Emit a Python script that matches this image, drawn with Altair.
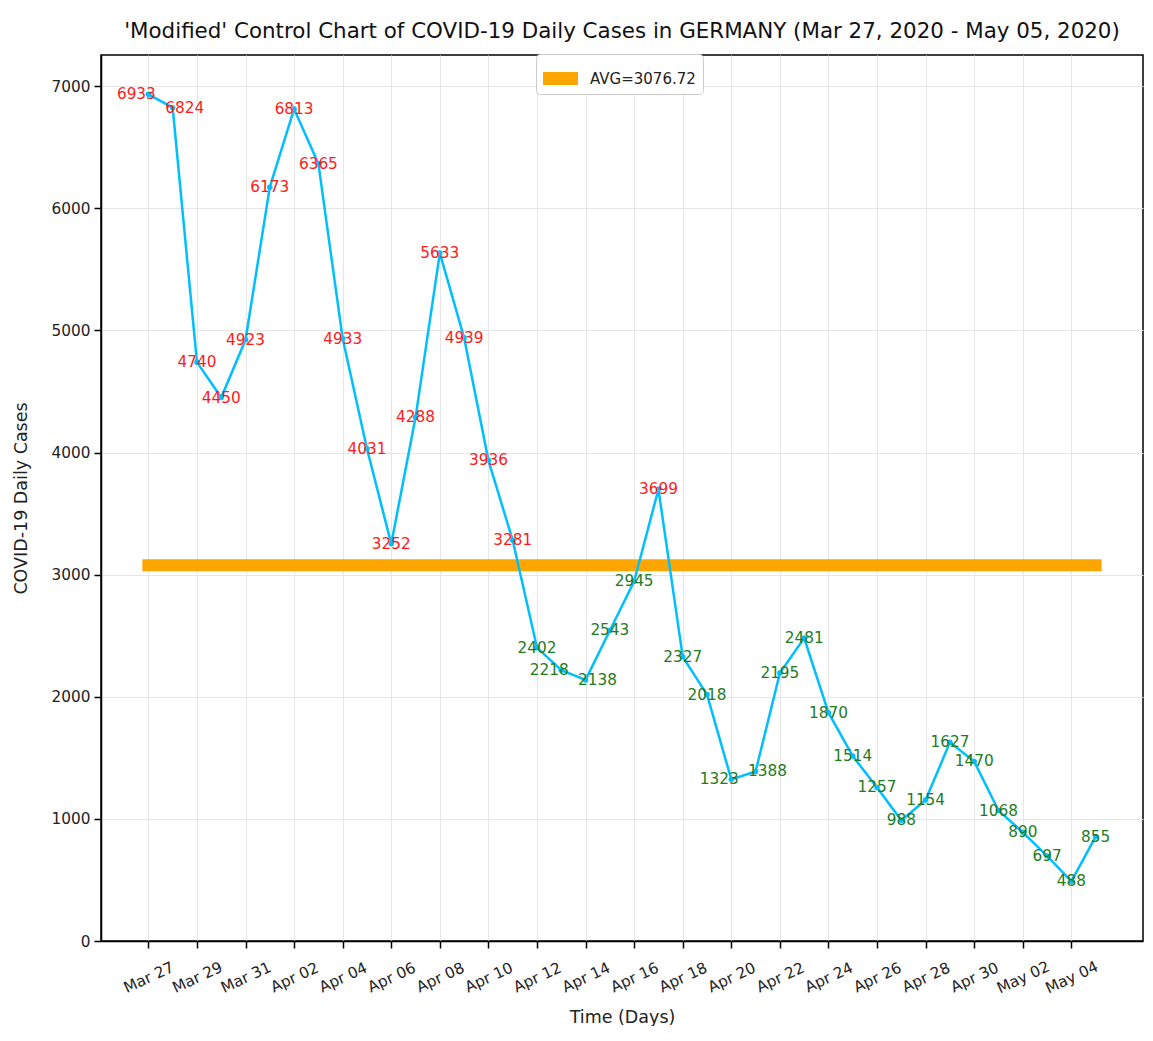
import altair as alt
import pandas as pd

# ---- data ----
dates = [
    "2020-03-27", "2020-03-28", "2020-03-29", "2020-03-30", "2020-03-31",
    "2020-04-01", "2020-04-02", "2020-04-03", "2020-04-04", "2020-04-05",
    "2020-04-06", "2020-04-07", "2020-04-08", "2020-04-09", "2020-04-10",
    "2020-04-11", "2020-04-12", "2020-04-13", "2020-04-14", "2020-04-15",
    "2020-04-16", "2020-04-17", "2020-04-18", "2020-04-19", "2020-04-20",
    "2020-04-21", "2020-04-22", "2020-04-23", "2020-04-24", "2020-04-25",
    "2020-04-26", "2020-04-27", "2020-04-28", "2020-04-29", "2020-04-30",
    "2020-05-01", "2020-05-02", "2020-05-03", "2020-05-04", "2020-05-05",
]
cases = [
    6933, 6824, 4740, 4450, 4923, 6173, 6813, 6365, 4933, 4031,
    3252, 4288, 5633, 4939, 3936, 3281, 2402, 2218, 2138, 2543,
    2945, 3699, 2327, 2018, 1323, 1388, 2195, 2481, 1870, 1514,
    1257, 988, 1154, 1627, 1470, 1068, 890, 697, 488, 855,
]
tick_dates = dates[::2]  # Mar 27, Mar 29, ..., May 04
y_ticks = [0, 1000, 2000, 3000, 4000, 5000, 6000, 7000]

avg = sum(cases) / len(cases)
avg_label = f"AVG={avg:.2f}"
title_text = "'Modified' Control Chart of COVID-19 Daily Cases in GERMANY (Mar 27, 2020 - May 05, 2020)"

# label side: push apart labels of neighbouring days whose values are close
side = ["mid"] * len(cases)
for i in range(len(cases) - 1):
    if abs(cases[i + 1] - cases[i]) < 120:
        side[i] = "left"
        side[i + 1] = "right"

df = pd.DataFrame({"date": dates, "cases": cases, "side": side})
df["above"] = df["cases"] > avg
avg_df = pd.DataFrame({"start": [dates[0]], "end": [dates[-1]], "avg": [avg], "label": [avg_label]})

FONT = "DejaVu Sans"


def to_dt(s, hours=0, minutes=0):
    t = pd.Timestamp(s)
    return alt.DateTime(year=t.year, month=t.month, date=t.day, hours=hours, minutes=minutes, utc=True)


x_scale = alt.Scale(type="utc", domain=[to_dt("2020-03-25", 1, 12), to_dt("2020-05-06", 22, 48)])
y_scale = alt.Scale(domain=[0, 7255], nice=False, zero=True)

x_axis = alt.Axis(
    values=[to_dt(d) for d in tick_dates],
    labelExpr="utcFormat(datum.value, '%b %d')",
    labelAngle=-25, labelAlign="center", labelBaseline="middle", labelPadding=29,
    labelOverlap=False, labelBound=False, titlePadding=12,
)
y_axis = alt.Axis(values=y_ticks, format="d", labelPadding=4, titlePadding=21)

X_TITLE = "Time (Days)"
Y_TITLE = "COVID-19 Daily Cases"

avg_band = alt.Chart(avg_df).mark_rule(strokeWidth=12, strokeCap="square").encode(
    x=alt.X("start:T", scale=x_scale, axis=x_axis, title=X_TITLE),
    x2="end:T",
    y=alt.Y("avg:Q", scale=y_scale, axis=y_axis, title=Y_TITLE),
    color=alt.Color(
        "label:N",
        scale=alt.Scale(domain=[avg_label], range=["#FFA500"]),
        legend=alt.Legend(
            title=None, orient="none", legendX=435, legendY=-1,
            symbolType="M-1,-0.371L1,-0.371L1,0.371L-1,0.371Z", symbolSize=1225,
            symbolFillColor="#FFA500", symbolStrokeWidth=0, symbolOpacity=1,
            labelFont=FONT, labelFontSize=15, labelColor="#222222", labelOffset=12,
            padding=7, strokeColor="#cccccc", fillColor="white", cornerRadius=4,
        ),
    ),
)

base = alt.Chart(df).encode(
    x=alt.X("date:T", scale=x_scale, axis=x_axis, title=X_TITLE),
    y=alt.Y("cases:Q", scale=y_scale, axis=y_axis, title=Y_TITLE),
)

line = base.mark_line(color="#00BFFF", strokeWidth=2.5)
pts = base.mark_circle(color="#00BFFF", size=30, opacity=1)

label_color = alt.condition(alt.datum.above, alt.value("#FF1A1A"), alt.value("#1E7B1E"))
label_layers = []
for name, shift in (("mid", 0), ("left", -12), ("right", 12)):
    label_layers.append(
        base.transform_filter(alt.datum.side == name)
        .mark_text(font=FONT, fontSize=15.3, align="center", baseline="middle", dx=shift)
        .encode(text=alt.Text("cases:Q", format="d"), color=label_color)
    )

chart = alt.layer(avg_band, line, pts, *label_layers).properties(
    width=1042,
    height=886,
    autosize=alt.AutoSizeParams(type="none"),
    padding={"left": 93, "top": 47, "right": 2, "bottom": 85},
    title=alt.TitleParams(
        title_text, font=FONT, fontSize=21.4, fontWeight="normal", color="#111111",
        anchor="middle", offset=11,
    ),
).configure_view(
    stroke="black", strokeWidth=1.5,
).configure_axis(
    labelFont=FONT, labelFontSize=15.3, labelColor="#222222",
    titleFont=FONT, titleFontSize=17.5, titleFontWeight="normal", titleColor="#222222",
    domainColor="black", domainWidth=1.5,
    tickColor="black", tickWidth=1.5, tickSize=7,
    gridColor="#e6e6e6", gridWidth=1,
)

chart.save("out.html", embed_options={"renderer": "svg", "actions": False})
